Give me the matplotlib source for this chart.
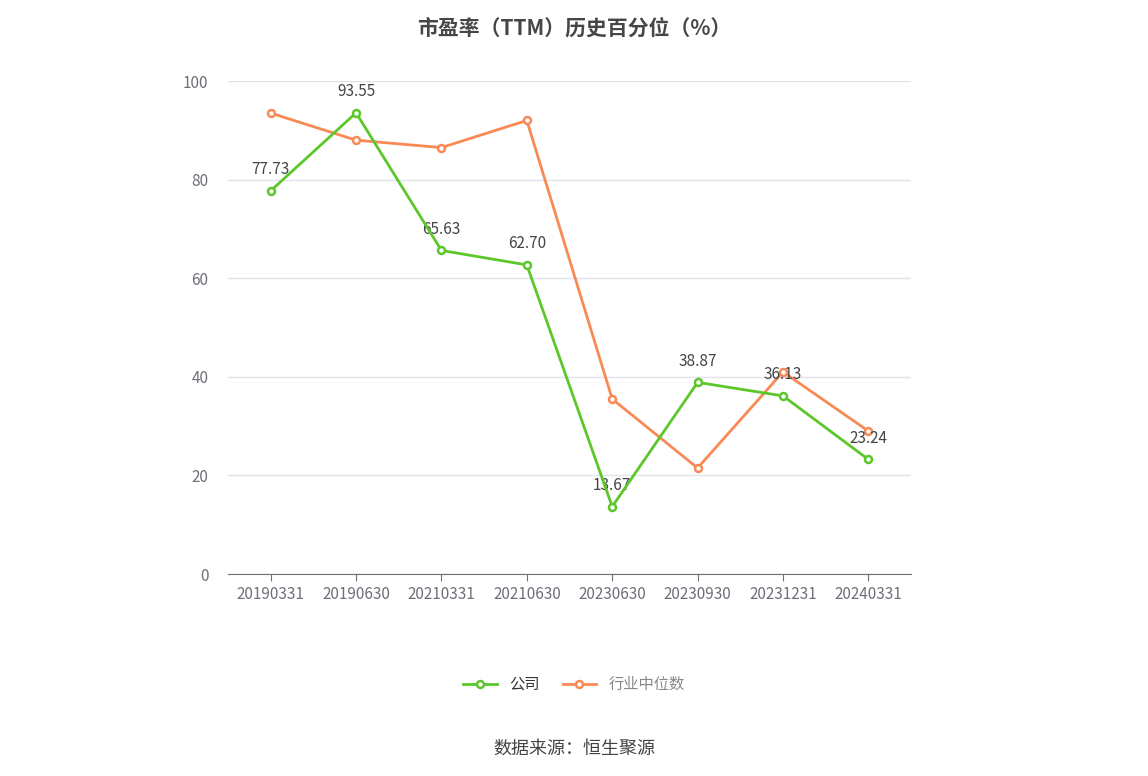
import matplotlib
matplotlib.use("Agg")
import matplotlib.pyplot as plt

plt.rcParams["font.family"] = ["Noto Sans CJK SC"]

categories = ["20190331", "20190630", "20210331", "20210630", "20230630", "20230930", "20231231", "20240331"]
company = [77.73, 93.55, 65.63, 62.70, 13.67, 38.87, 36.13, 23.24]
industry = [93.5, 88.0, 86.5, 92.0, 35.5, 21.5, 41.0, 29.0]
yticks = [0, 20, 40, 60, 80, 100]

fig = plt.figure(figsize=(11.48, 7.76), dpi=100)
ax = fig.add_axes([0.1986, 0.2603, 0.595, 0.6353])
x = list(range(len(categories)))
green = "#5cc72a"
orange = "#fa8a55"
ax.plot(x, industry, color=orange, lw=2, marker="o", ms=5, mfc="white", mew=1.8, label="行业中位数", zorder=3)
ax.plot(x, company, color=green, lw=2, marker="o", ms=5, mfc="white", mew=1.8, label="公司", zorder=4)
for xi, v in zip(x, company):
    ax.annotate(f"{v:.2f}", (xi, v), xytext=(0, 9), textcoords="offset points",
                ha="center", va="bottom", fontsize=11, color="#444444")
ax.set_xlim(-0.5, 7.5)
ax.set_ylim(0, 100)
ax.set_yticks(yticks)
ax.set_xticks(x)
ax.set_xticklabels(categories)
ax.grid(axis="y", color="#e0e3ec", lw=1)
ax.set_axisbelow(True)
for s in ["top", "right", "left"]:
    ax.spines[s].set_visible(False)
ax.spines["bottom"].set_color("#6e7079")
ax.tick_params(axis="y", length=0, labelsize=11, labelcolor="#6e7079", pad=14)
ax.tick_params(axis="x", length=5, color="#6e7079", labelsize=11, labelcolor="#6e7079")

fig.text(0.5, 0.977, "市盈率（TTM）历史百分位（%）", ha="center", va="top", fontsize=15, fontweight="bold", color="#464646")
h, l = ax.get_legend_handles_labels()
fig.legend(h[::-1], l[::-1], loc="center", bbox_to_anchor=(0.5, 0.118), ncol=2, frameon=False,
           fontsize=11, labelcolor=["#333333", "#888888"], handlelength=2.2, columnspacing=1.5)
fig.text(0.5, 0.035, "数据来源：恒生聚源", ha="center", va="center", fontsize=13, color="#444444")
fig.savefig("out.png", dpi=100)
